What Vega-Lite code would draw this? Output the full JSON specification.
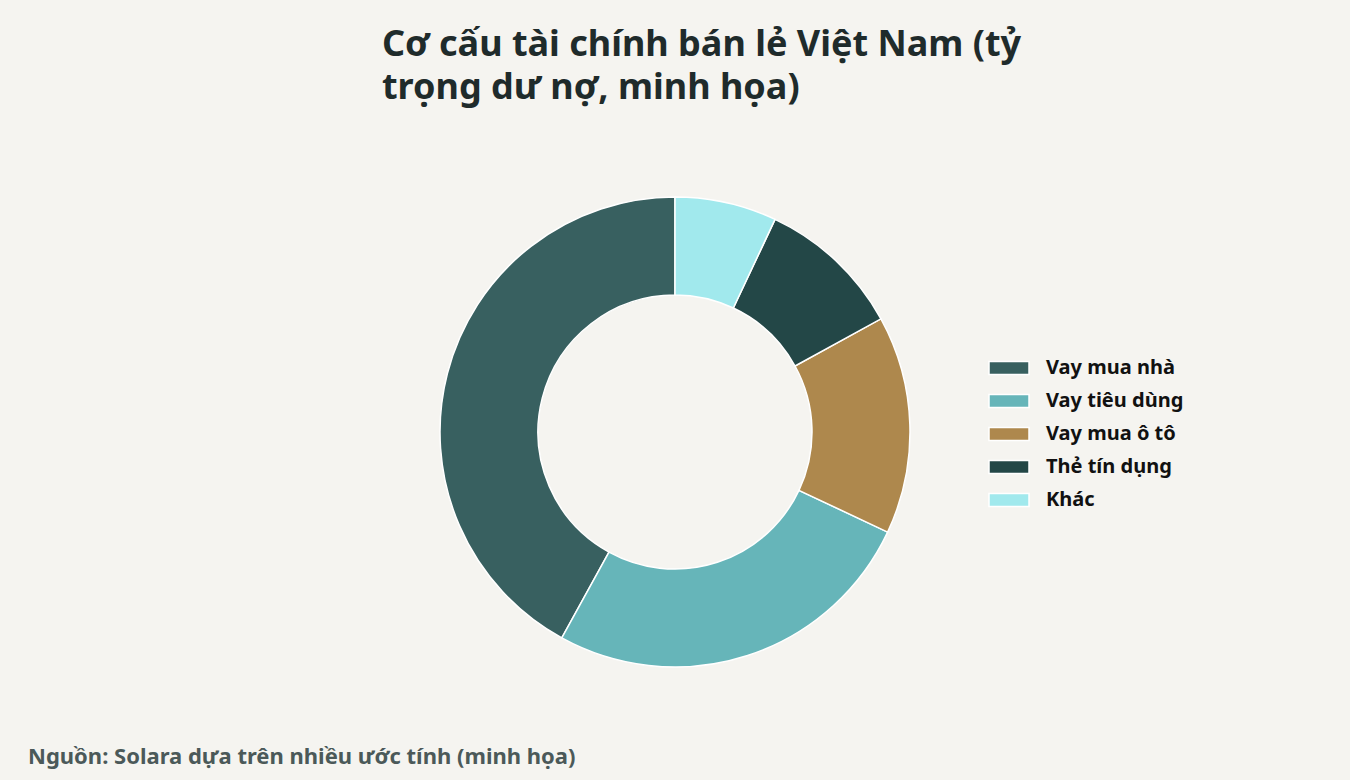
{
  "$schema": "https://vega.github.io/schema/vega-lite/v6.json",
  "background": "#f5f4f0",
  "padding": {"top": 27, "left": 0, "right": 0, "bottom": 12},
  "title": {
    "text": "Nguồn: Solara dựa trên nhiều ước tính (minh họa)",
    "orient": "bottom",
    "anchor": "start",
    "dx": 28,
    "offset": 35,
    "font": "Noto Sans",
    "fontSize": 22,
    "fontWeight": "bold",
    "color": "#4b5959"
  },
  "vconcat": [
    {
      "width": 1350,
      "height": 560,
      "title": {
        "text": ["Cơ cấu tài chính bán lẻ Việt Nam (tỷ", "trọng dư nợ, minh họa)"],
        "anchor": "start",
        "frame": "group",
        "dx": 382,
        "offset": 45,
        "font": "Noto Sans",
        "fontSize": 36,
        "lineHeight": 43,
        "fontWeight": "bold",
        "color": "#1f2b2b"
      },
      "data": {
        "values": [
          {"category": "Vay mua nhà", "share": 42},
          {"category": "Vay tiêu dùng", "share": 26},
          {"category": "Vay mua ô tô", "share": 15},
          {"category": "Thẻ tín dụng", "share": 10},
          {"category": "Khác", "share": 7}
        ]
      },
      "mark": {"type": "arc", "outerRadius": 235, "innerRadius": 137, "stroke": "#ffffff", "strokeWidth": 1.5},
      "encoding": {
        "theta": {"field": "share", "type": "quantitative", "stack": true},
        "order": {"field": "share", "type": "quantitative", "sort": "ascending"},
        "color": {
          "field": "category",
          "type": "nominal",
          "scale": {
            "domain": ["Vay mua nhà", "Vay tiêu dùng", "Vay mua ô tô", "Thẻ tín dụng", "Khác"],
            "range": ["#386060", "#66b5b9", "#ae884d", "#234747", "#a1e9ed"]
          },
          "legend": {
            "title": null,
            "orient": "none",
            "legendX": 998,
            "legendY": 205,
            "padding": 0,
            "symbolType": "M-2,-0.65L2,-0.65L2,0.65L-2,0.65Z",
            "symbolSize": 400,
            "symbolStrokeColor": "#ffffff",
            "symbolStrokeWidth": 1.5,
            "symbolOpacity": 1,
            "labelOffset": 26,
            "rowPadding": 12,
            "labelFont": "Noto Sans",
            "labelFontSize": 20,
            "labelFontWeight": "bold",
            "labelColor": "#111111",
            "labelLimit": 300
          }
        }
      }
    }
  ],
  "config": {
    "view": {"stroke": null},
    "concat": {"spacing": 0}
  }
}
